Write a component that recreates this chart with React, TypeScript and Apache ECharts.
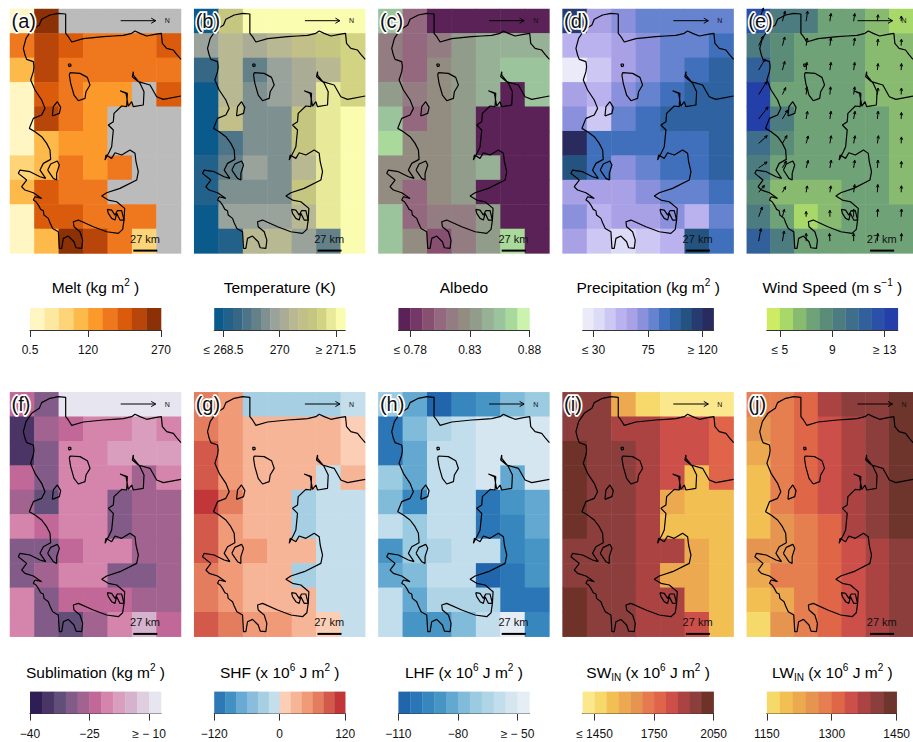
import React, { useEffect, useRef } from "react";
import * as echarts from "echarts";

const FONT = '"Liberation Sans", Arial, sans-serif';

// ---------- Coastline trace (trace units, same for every panel) ----------
const coastMain = [[543,178],[530,163],[520,150],[500,145],[487,130],[484,100],[465,103],[440,108],[420,100],[405,93],[395,100],[370,106],[340,108],[310,110],[280,113],[250,116],[215,126],[205,110],[197,100],[197,70],[197,42],[175,40],[150,45],[125,58],[118,75],[95,90],[78,115],[70,145],[75,165],[80,178],[100,185],[102,200],[100,215],[92,240],[105,270],[125,300],[135,325],[125,345],[100,355],[92,375],[88,385],[105,395],[125,410],[140,430],[150,450],[152,478],[130,490],[120,510],[137,535],[120,530],[90,515],[60,510],[55,520],[80,540],[65,560],[75,570],[100,578],[125,595],[105,590],[100,600],[108,605],[115,615],[122,628],[130,632],[132,645],[145,655],[150,668],[158,685],[175,695],[178,745],[185,745],[190,715],[205,708],[222,725],[228,743],[245,745],[248,720],[240,695],[222,680],[220,665],[235,660],[280,680],[320,695],[355,700],[368,688],[372,660],[374,625],[350,605],[325,600],[305,588],[320,578],[360,565],[410,540],[415,515],[408,485],[405,460],[390,450],[365,465],[345,458],[335,475],[318,465],[315,480],[320,470],[328,455],[335,440],[340,390],[325,375],[340,365],[342,340],[365,318],[380,320],[382,280],[360,272],[378,280],[385,318],[395,305],[400,320],[430,315],[432,275],[420,250],[400,225],[400,215],[397,230],[415,245],[450,255],[470,290],[490,298],[543,288]];
const coastLake = [[210,218],[240,220],[262,232],[270,255],[258,275],[255,295],[235,302],[222,285],[212,250],[208,225],[210,218]];
const coastDot = [[205,192],[212,192],[213,198],[207,200],[205,192]];
const coastIslandA = [[157,348],[160,320],[172,305],[182,322],[178,340],[157,348]];
const coastIslandB = [[143,510],[152,492],[172,483],[178,495],[170,520],[170,540],[160,535],[143,510]];
const coastFjord = [[322,628],[335,630],[345,645],[352,632],[365,632],[372,660],[360,660],[350,640],[345,660],[335,655],[325,640],[322,628]];
const coastLines = [coastMain, coastLake, coastDot, coastIslandA, coastIslandB, coastFjord];

// ---------- Cell values: 10 rows × 7 columns ----------
const meltValues = [
  [15,255,0,0,0,0,0],[165,225,195,165,165,165,195],[105,225,165,165,165,165,165],[15,195,165,135,135,0,195],[15,225,165,135,0,0,0],
  [15,105,135,135,0,0,0],[75,105,165,135,165,0,0],[105,195,165,165,0,0,0],[15,195,195,165,165,165,0],[15,105,255,225,165,75,0],
];
const tempValues = [
  [268.4,270.9,271.6,271.6,271.6,271.6,271.6],[269.9,270.4,270.1,270.4,270.6,270.9,271.1],[268.9,270.4,269.4,269.9,270.1,270.4,271.1],[268.4,270.4,269.6,269.9,270.1,271.4,271.1],[268.4,270.6,269.6,269.6,270.9,271.4,271.6],
  [268.4,269.1,269.6,269.6,270.9,271.4,271.6],[268.6,269.4,269.9,269.6,270.4,271.4,271.6],[268.6,269.6,269.6,269.6,270.9,271.4,271.6],[268.4,269.9,269.9,269.9,270.4,271.4,271.6],[268.4,268.6,270.4,270.4,269.9,269.4,271.6],
];
const albedoValues = [
  [0.855,0.805,0.775,0.775,0.775,0.775,0.775],[0.815,0.805,0.815,0.835,0.845,0.845,0.845],[0.815,0.805,0.825,0.835,0.845,0.855,0.855],[0.835,0.815,0.825,0.835,0.845,0.775,0.855],[0.855,0.805,0.825,0.835,0.775,0.775,0.775],
  [0.865,0.825,0.825,0.835,0.775,0.775,0.775],[0.825,0.825,0.825,0.835,0.845,0.775,0.775],[0.825,0.805,0.825,0.835,0.775,0.775,0.775],[0.855,0.805,0.815,0.815,0.835,0.775,0.775],[0.855,0.825,0.795,0.815,0.835,0.865,0.775],
];
const precipValues = [
  [115.5,61.5,70.5,79.5,79.5,79.5,79.5],[52.5,52.5,61.5,70.5,79.5,79.5,88.5],[25.5,43.5,61.5,70.5,79.5,88.5,97.5],[61.5,52.5,70.5,79.5,88.5,97.5,97.5],[70.5,43.5,79.5,88.5,97.5,97.5,97.5],
  [124.5,88.5,88.5,88.5,88.5,88.5,97.5],[106.5,88.5,70.5,79.5,88.5,88.5,97.5],[61.5,61.5,61.5,70.5,79.5,79.5,88.5],[70.5,52.5,61.5,61.5,70.5,52.5,79.5],[61.5,43.5,34.5,43.5,52.5,106.5,88.5],
];
const windValues = [
  [12.5,9.5,9.5,7.5,7.5,6.5,5.5],[9.5,8.5,7.5,7.5,7.5,6.5,6.5],[11.5,8.5,7.5,7.5,7.5,6.5,6.5],[13.5,7.5,7.5,7.5,7.5,6.5,6.5],[13.5,9.5,7.5,7.5,7.5,7.5,6.5],
  [10.5,8.5,7.5,7.5,7.5,7.5,6.5],[9.5,7.5,7.5,7.5,7.5,7.5,6.5],[8.5,6.5,6.5,6.5,7.5,7.5,6.5],[9.5,7.5,5.5,6.5,7.5,7.5,7.5],[11.5,9.5,7.5,7.5,7.5,7.5,7.5],
];
const windDirections = [
  [20,15,8,8,8,6,3],[25,15,8,8,8,6,3],[30,15,5,8,8,6,3],[32,25,5,5,8,6,3],[38,30,10,8,10,6,3],
  [48,30,15,10,10,8,3],[55,30,15,10,8,5,3],[40,30,10,8,8,3,3],[20,15,0,0,0,3,3],[10,10,0,-3,0,3,3],
];
const sublimationValues = [
  [-23.5,-29.5,-8.5,-8.5,-8.5,-8.5,-8.5],[-35.5,-26.5,-23.5,-20.5,-20.5,-17.5,-20.5],[-35.5,-29.5,-20.5,-20.5,-17.5,-17.5,-17.5],[-23.5,-29.5,-20.5,-20.5,-20.5,-26.5,-20.5],[-26.5,-32.5,-20.5,-20.5,-29.5,-26.5,-26.5],
  [-20.5,-23.5,-20.5,-20.5,-29.5,-26.5,-26.5],[-29.5,-29.5,-23.5,-20.5,-20.5,-26.5,-26.5],[-29.5,-26.5,-20.5,-20.5,-29.5,-29.5,-26.5],[-20.5,-29.5,-23.5,-23.5,-23.5,-26.5,-26.5],[-20.5,-29.5,-32.5,-26.5,-20.5,-14.5,-23.5],
];
const shfValues = [
  [70,50,-30,-30,-30,-30,-10],[70,50,30,30,30,30,10],[90,50,30,30,30,30,10],[90,50,30,30,30,-10,30],[110,70,30,30,-30,-10,-10],
  [90,50,30,30,-30,-10,-10],[90,50,50,30,30,-10,-10],[70,50,30,30,-30,-10,-10],[70,50,30,30,30,-10,-10],[90,70,50,50,30,10,-10],
];
const lhfValues = [
  [-71,-83,-107,-95,-89,-77,-71],[-101,-77,-65,-59,-53,-53,-53],[-101,-83,-59,-59,-53,-53,-53],[-71,-83,-59,-59,-53,-83,-53],[-77,-95,-59,-59,-101,-89,-83],
  [-59,-71,-59,-59,-101,-95,-83],[-89,-71,-65,-59,-59,-95,-89],[-83,-77,-59,-59,-107,-101,-89],[-59,-83,-65,-65,-65,-101,-101],[-59,-89,-89,-77,-59,-47,-95],
];
const swValues = [
  [1960,1960,1600,1480,1420,1420,1420],[1960,1960,1900,1900,1840,1840,1780],[2020,1960,1960,1900,1840,1840,1780],[2020,1960,1960,1900,1840,1540,1780],[2020,1960,1960,1900,1600,1540,1540],
  [2020,1960,1960,1900,1540,1540,1540],[1960,1960,1960,1900,1900,1600,1540],[1960,1960,1960,1900,1600,1600,1540],[2020,1960,1960,1900,1900,1600,1540],[2020,1960,1960,1900,1900,1840,1540],
];
const lwValues = [
  [1285,1285,1315,1375,1405,1405,1435],[1255,1285,1315,1345,1375,1405,1435],[1225,1285,1315,1345,1375,1405,1435],[1195,1285,1315,1345,1375,1405,1435],[1195,1285,1315,1345,1375,1405,1435],
  [1195,1255,1285,1315,1375,1405,1435],[1255,1255,1285,1315,1345,1375,1405],[1225,1285,1285,1315,1345,1375,1405],[1195,1225,1285,1315,1345,1375,1405],[1165,1255,1285,1315,1345,1375,1405],
];

// ---------- Class breaks ----------
const meltBreaks = [0.5,30,60,90,120,150,180,210,240,270];
const tempBreaks = [268.25,268.5,268.75,269,269.25,269.5,269.75,270,270.25,270.5,270.75,271,271.25,271.5,271.75];
const albedoBreaks = [0.77,0.78,0.79,0.8,0.81,0.82,0.83,0.84,0.85,0.86,0.87,0.88];
const precipBreaks = [21,30,39,48,57,66,75,84,93,102,111,120,129];
const windBreaks = [4,5,6,7,8,9,10,11,12,13,14];
const sublimationBreaks = [-40,-37,-34,-31,-28,-25,-22,-19,-16,-13,-10,-7];
const shfBreaks = [-120,-100,-80,-60,-40,-20,0,20,40,60,80,100,120];
const lhfBreaks = [-110,-104,-98,-92,-86,-80,-74,-68,-62,-56,-50,-44];
const swBreaks = [1390,1450,1510,1570,1630,1690,1750,1810,1870,1930,1990,2050];
const lwBreaks = [1150,1180,1210,1240,1270,1300,1330,1360,1390,1420,1450];

// ---------- Palettes ----------
const meltColors = ["#FFF6C3","#FCE8A0","#FDD477","#FDB94A","#FC992B","#EF771E","#DA5B0B","#B8460A","#8C3005"];
const tempColors = ["#0A5A8C","#22628A","#366885","#4D7488","#648089","#7F9090","#99A39C","#ABAC96","#B8B892","#C2C088","#C5C680","#D3D384","#E8EA9A","#FAFDB0"];
const albedoColors = ["#5A2257","#743766","#875070","#94687E","#937D82","#938C81","#929C8A","#97B196","#9CC49C","#A9DA9B","#CBF3AE"];
const precipColors = ["#EBEAF8","#DDDCF6","#CCC8F3","#BAB2EE","#A9A1E6","#8A90DC","#6583CF","#406FBC","#2E62A0","#245380","#263B70","#292A5E"];
const windColors = ["#CDEB63","#A7D869","#88BB6F","#6FA276","#5B8C77","#4C7B80","#3E6E8A","#32609A","#2A50A8","#2440A8"];
const sublimationColors = ["#2F1E55","#4A3566","#624F79","#825B89","#A36390","#C16898","#D584AC","#D99DBE","#D5B3CE","#DFCDE0","#E6E5F0"];
const shfColors = ["#2E79B5","#4291C2","#68AAD3","#8ABCDB","#A6CFE3","#C4DEEC","#FCCEB6","#F7B598","#F19A77","#E37D5E","#D35A4A","#C13639"];
const lhfColors = ["#2166AC","#2B76B6","#3787BE","#4795C5","#63A8D0","#81BBDA","#9BCBE1","#AED4E6","#C2DEEC","#D5E6F1","#E5EEF5"];
const swColors = ["#FBE88D","#F7D96B","#F2BF53","#EDA94F","#E59550","#E5794F","#DF644A","#CC4F4A","#AC4343","#8C3E3D","#6E3229"];
const lwColors = ["#F5D96A","#F2BF53","#ECA94F","#E59550","#E57F50","#E06648","#CC4F4A","#AC4343","#8C3E3D","#6E352C"];

// ---------- Tick labels ----------
const meltTicks = [0.5,120,270];
const meltTickLabels = ["0.5","120","270"];
const tempTicks = [268.5,270,271.5];
const tempTickLabels = ["≤ 268.5","270","≥ 271.5"];
const albedoTicks = [0.78,0.83,0.88];
const albedoTickLabels = ["≤ 0.78","0.83","0.88"];
const precipTicks = [30,75,120];
const precipTickLabels = ["≤ 30","75","≥ 120"];
const windTicks = [5,9,13];
const windTickLabels = ["≤ 5","9","≥ 13"];
const sublimationTicks = [-40,-25,-10];
const sublimationTickLabels = ["−40","−25","≥ − 10"];
const shfTicks = [-120,0,120];
const shfTickLabels = ["−120","0","120"];
const lhfTicks = [-110,-80,-50];
const lhfTickLabels = ["−110","−80","≥ − 50"];
const swTicks = [1450,1750,2050];
const swTickLabels = ["≤ 1450","1750","2050"];
const lwTicks = [1150,1300,1450];
const lwTickLabels = ["1150","1300","1450"];

const categoriesX = ["0","1","2","3","4","5","6"];
const categoriesY = ["0","1","2","3","4","5","6","7","8","9"];

const panels: any[] = [
  { label: "(a)", title: "{t|Melt (kg m}{s|2}{t| )}", values: meltValues, breaks: meltBreaks, colors: meltColors, ticks: meltTicks, tickLabels: meltTickLabels, zeroColor: "#BBBBBB" },
  { label: "(b)", title: "{t|Temperature (K)}", values: tempValues, breaks: tempBreaks, colors: tempColors, ticks: tempTicks, tickLabels: tempTickLabels },
  { label: "(c)", title: "{t|Albedo}", values: albedoValues, breaks: albedoBreaks, colors: albedoColors, ticks: albedoTicks, tickLabels: albedoTickLabels },
  { label: "(d)", title: "{t|Precipitation (kg m}{s|2}{t| )}", values: precipValues, breaks: precipBreaks, colors: precipColors, ticks: precipTicks, tickLabels: precipTickLabels },
  { label: "(e)", title: "{t|Wind Speed (m s}{s|−1}{t| )}", values: windValues, breaks: windBreaks, colors: windColors, ticks: windTicks, tickLabels: windTickLabels, wind: windDirections },
  { label: "(f)", title: "{t|Sublimation (kg m}{s|2}{t| )}", values: sublimationValues, breaks: sublimationBreaks, colors: sublimationColors, ticks: sublimationTicks, tickLabels: sublimationTickLabels },
  { label: "(g)", title: "{t|SHF (x 10}{s|6}{t| J m}{s|2}{t| )}", values: shfValues, breaks: shfBreaks, colors: shfColors, ticks: shfTicks, tickLabels: shfTickLabels },
  { label: "(h)", title: "{t|LHF (x 10}{s|6}{t| J m}{s|2}{t| )}", values: lhfValues, breaks: lhfBreaks, colors: lhfColors, ticks: lhfTicks, tickLabels: lhfTickLabels },
  { label: "(i)", title: "{t|SW}{b|IN}{t| (x 10}{s|6}{t| J m}{s|2}{t| )}", values: swValues, breaks: swBreaks, colors: swColors, ticks: swTicks, tickLabels: swTickLabels },
  { label: "(j)", title: "{t|LW}{b|IN}{t| (x 10}{s|6}{t| J m}{s|2}{t| )}", values: lwValues, breaks: lwBreaks, colors: lwColors, ticks: lwTicks, tickLabels: lwTickLabels },
];

function buildOption() {
  const grid: any[] = [], xAxis: any[] = [], yAxis: any[] = [], series: any[] = [], visualMap: any[] = [], graphic: any[] = [];
  const richStyles = {
    t: { fontFamily: FONT, fontSize: 15.5, lineHeight: 20, color: "#111" },
    s: { fontFamily: FONT, fontSize: 10, lineHeight: 12, verticalAlign: "top", color: "#111" },
    b: { fontFamily: FONT, fontSize: 10, lineHeight: 12, verticalAlign: "bottom", color: "#111" },
  };
  panels.forEach((p, k) => {
    const col = k % 5, row = Math.floor(k / 5);
    const left = 10 + 184.2 * col;
    const top = row === 0 ? 9 : 392.3;
    const barTop = row === 0 ? 308 : 691.6;
    const titleY = row === 0 ? 287 : 672;
    const xBase = xAxis.length, yBase = yAxis.length, gBase = grid.length;

    grid.push({ left, top, width: 171, height: 244.4 });
    grid.push({ left: left + 20, top: barTop, width: 131, height: 22 });

    xAxis.push({ type: "category", gridIndex: gBase, data: categoriesX, show: false });
    yAxis.push({ type: "category", gridIndex: gBase, data: categoriesY, inverse: true, show: false });
    xAxis.push({ type: "value", gridIndex: gBase, min: 30, max: 543, show: false });
    yAxis.push({ type: "value", gridIndex: gBase, min: 27, max: 760, inverse: true, show: false });
    xAxis.push({
      type: "value", gridIndex: gBase + 1, min: p.breaks[0], max: p.breaks[p.breaks.length - 1],
      axisLine: { show: true, lineStyle: { color: "#333", width: 1 } },
      axisTick: { show: true, length: 7, customValues: p.ticks, lineStyle: { color: "#333", width: 1 } },
      axisLabel: {
        show: true, customValues: p.ticks, margin: 14, fontFamily: FONT, fontSize: 12, color: "#111",
        hideOverlap: false,
        formatter: (v: number) => { const i = p.ticks.indexOf(v); return i >= 0 ? p.tickLabels[i] : ""; },
      },
      splitLine: { show: false },
    });
    yAxis.push({ type: "value", gridIndex: gBase + 1, min: 0, max: 1, show: false });

    const cells: any[] = [];
    p.values.forEach((r: number[], y: number) => r.forEach((v: number, x: number) => cells.push([x, y, v])));
    const pieces = p.colors.map((c: string, i: number) => ({ min: p.breaks[i], max: p.breaks[i + 1], color: c }));
    if (p.zeroColor) pieces.unshift({ min: -1, max: 0.4, color: p.zeroColor });
    visualMap.push({ type: "piecewise", show: false, seriesIndex: series.length, dimension: 2, pieces });
    series.push({
      type: "heatmap", xAxisIndex: xBase, yAxisIndex: yBase, data: cells, silent: true,
      itemStyle: { borderWidth: 0 }, emphasis: { disabled: true }, progressive: 0,
    });

    coastLines.forEach((line) => {
      series.push({
        type: "line", xAxisIndex: xBase + 1, yAxisIndex: yBase + 1, data: line, symbol: "none", silent: true, z: 5,
        lineStyle: { color: "#000", width: 1.2 }, smooth: false,
      });
    });

    if (p.wind) {
      const arrows: any[] = [];
      p.values.forEach((r: number[], y: number) => r.forEach((v: number, x: number) => arrows.push([x, y, v, p.wind[y][x]])));
      series.push({
        type: "custom", xAxisIndex: xBase, yAxisIndex: yBase, data: arrows, silent: true, z: 6,
        encode: { x: 0, y: 1 },
        renderItem: (_: any, api: any) => {
          const [px, py] = api.coord([api.value(0), api.value(1)]);
          const speed = api.value(2);
          const a = (api.value(3) * Math.PI) / 180;
          const len = 4 + (speed - 4.5) * 1.25;
          const tx = px + len * Math.sin(a), ty = py - len * Math.cos(a);
          const h1 = a + Math.PI - 0.45, h2 = a + Math.PI + 0.45;
          return {
            type: "group",
            children: [
              { type: "line", shape: { x1: px, y1: py, x2: tx, y2: ty }, style: { stroke: "#000", lineWidth: 1 } },
              { type: "polyline", shape: { points: [[tx + 3 * Math.sin(h1), ty - 3 * Math.cos(h1)], [tx, ty], [tx + 3 * Math.sin(h2), ty - 3 * Math.cos(h2)]] }, style: { stroke: "#000", lineWidth: 1, fill: "none" } },
            ],
          };
        },
      });
    }

    const barData = p.colors.map((_: string, i: number) => [p.breaks[i], p.breaks[i + 1], i]);
    series.push({
      type: "custom", xAxisIndex: xBase + 2, yAxisIndex: yBase + 2, data: barData, silent: true,
      encode: { x: [0, 1] },
      renderItem: (_: any, api: any) => {
        const a = api.coord([api.value(0), 1]);
        const b = api.coord([api.value(1), 0]);
        return { type: "rect", shape: { x: a[0], y: a[1], width: b[0] - a[0] + 0.3, height: b[1] - a[1] }, style: { fill: p.colors[api.value(2)] } };
      },
    });

    graphic.push({
      type: "text", z: 100, x: left + 85.5, y: titleY,
      style: { text: p.title, rich: richStyles, align: "center", verticalAlign: "middle", fontFamily: FONT, fontSize: 15.5 },
    });
    graphic.push({
      type: "text", z: 100, x: left + 1.5, y: top + 12,
      style: { text: p.label, fontFamily: FONT, fontSize: 20, fill: "#111", stroke: "#fff", lineWidth: 3.5, align: "left", verticalAlign: "middle" },
    });
    const ay = top + 11.7, ax1 = left + 110.7, ax2 = left + 145.7;
    graphic.push({ type: "line", z: 100, shape: { x1: ax1, y1: ay, x2: ax2, y2: ay }, style: { stroke: "#000", lineWidth: 1 } });
    graphic.push({ type: "polyline", z: 100, shape: { points: [[ax2 - 4.5, ay - 2.6], [ax2, ay], [ax2 - 4.5, ay + 2.6]] }, style: { stroke: "#000", lineWidth: 1, fill: "none" } });
    graphic.push({
      type: "text", z: 100, x: left + 157.3, y: ay,
      style: { text: "N", fontFamily: FONT, fontSize: 7, fill: "#111", align: "center", verticalAlign: "middle" },
    });
    graphic.push({
      type: "text", z: 100, x: left + 135, y: top + 230,
      style: { text: "27 km", fontFamily: FONT, fontSize: 11, fill: "#111", align: "center", verticalAlign: "middle" },
    });
    graphic.push({ type: "line", z: 100, shape: { x1: left + 123.3, y1: top + 241.6, x2: left + 147.3, y2: top + 241.6 }, style: { stroke: "#000", lineWidth: 2 } });
  });
  return { animation: false, backgroundColor: "#fff", grid, xAxis, yAxis, series, visualMap, graphic };
}

export default function App() {
  const ref = useRef<HTMLDivElement>(null);
  useEffect(() => {
    document.body.style.margin = "0";
    document.body.style.overflow = "hidden";
    const chart = echarts.init(ref.current!, undefined, { renderer: "svg" });
    chart.setOption(buildOption());
    return () => chart.dispose();
  }, []);
  return <div ref={ref} style={{ width: 913, height: 742 }} />;
}
